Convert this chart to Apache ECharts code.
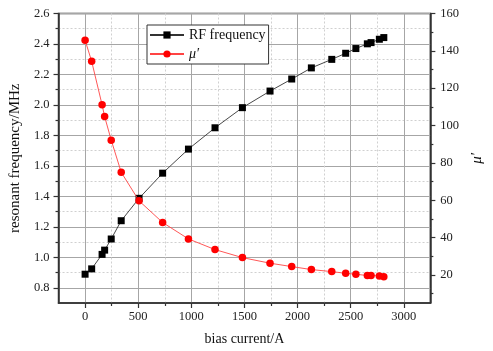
<!DOCTYPE html>
<html><head><meta charset="utf-8">
<script src="https://cdn.jsdelivr.net/npm/echarts@6/dist/echarts.min.js"></script>
<style>html,body{margin:0;padding:0;background:#fff}#c{width:493px;height:351px}</style>
</head><body><div id="c"></div>
<script>
const current = [0, 62, 160, 184, 246, 340, 508, 730, 973, 1223, 1481, 1741, 1945, 2130, 2322, 2453, 2549, 2657, 2692, 2770, 2812];
const rfFrequency = [0.889, 0.924, 1.019, 1.047, 1.120, 1.240, 1.387, 1.552, 1.710, 1.850, 1.982, 2.091, 2.170, 2.243, 2.299, 2.339, 2.370, 2.401, 2.409, 2.431, 2.442];
const muPrime = [145.7, 134.4, 111.1, 104.8, 92.2, 75.0, 59.7, 48.1, 39.3, 33.6, 29.3, 26.3, 24.5, 22.9, 21.8, 20.9, 20.4, 19.7, 19.7, 19.5, 19.1];
const xTicks = [0, 500, 1000, 1500, 2000, 2500, 3000];
const xMinorTicks = [250, 750, 1250, 1750, 2250, 2750];
const leftTicks = [0.8, 1.0, 1.2, 1.4, 1.6, 1.8, 2.0, 2.2, 2.4, 2.6];
const leftMinorTicks = [0.9, 1.1, 1.3, 1.5, 1.7, 1.9, 2.1, 2.3, 2.5];
const rightTicks = [20, 40, 60, 80, 100, 120, 140, 160];
const rightMinorTicks = [10, 30, 50, 70, 90, 110, 130, 150];

const FONT = 'Liberation Serif';
const AX = '#333';
const labelStyle = { fontFamily: FONT, fontSize: 12.5, color: '#222' };

const chart = echarts.init(document.getElementById('c'), null, { renderer: 'canvas' });
chart.setOption({
  animation: false,
  backgroundColor: '#fff',
  grid: { left: 55.5, right: 47.5, top: 13.5, bottom: 47.5, show: true, borderColor: AX, borderWidth: 1.5, backgroundColor: 'transparent' },
  legend: {
    orient: 'vertical', left: 147, top: 25,
    backgroundColor: '#fff', borderColor: '#333', borderWidth: 1,
    padding: [3, 3, 3, 2], itemGap: 5, itemWidth: 34, itemHeight: 9,
    textStyle: { fontFamily: FONT, fontSize: 14, color: '#111', lineHeight: 14 },
    data: [{ name: 'RF frequency' }, { name: 'μ′', textStyle: { fontStyle: 'italic' } }]
  },
  xAxis: [
    {
      type: 'value', position: 'bottom', min: -250, max: 3250,
      name: 'bias current/A', nameLocation: 'middle', nameGap: 29,
      nameTextStyle: { fontFamily: FONT, fontSize: 14, color: '#111' },
      axisLine: { onZero: false, lineStyle: { color: AX, width: 1.5 } },
      axisTick: { customValues: xTicks, length: 5, lineStyle: { color: AX, width: 1.2 } },
      axisLabel: { customValues: xTicks, margin: 7, ...labelStyle, formatter: v => String(v) },
      splitLine: { show: true, lineStyle: { color: '#a6a6a6', width: 1 } }
    },
    {
      type: 'value', position: 'bottom', min: -250, max: 3250,
      axisLine: { show: false, onZero: false },
      axisTick: { customValues: xMinorTicks, length: 3, lineStyle: { color: AX, width: 1.2 } },
      axisLabel: { show: false },
      splitLine: { show: true, lineStyle: { color: '#d0d0d0', width: 1, type: [2, 2] } }
    }
  ],
  yAxis: [
    {
      type: 'value', position: 'left', min: 0.7, max: 2.6,
      name: 'resonant frequency/MHz', nameLocation: 'middle', nameGap: 29,
      nameTextStyle: { fontFamily: FONT, fontSize: 15, color: '#111' },
      axisLine: { show: true, onZero: false, lineStyle: { color: AX, width: 1.5 } },
      axisTick: { customValues: leftTicks, length: 5, lineStyle: { color: AX, width: 1.2 } },
      axisLabel: { customValues: leftTicks, margin: 9, ...labelStyle, formatter: v => v.toFixed(1) },
      splitLine: { show: true, lineStyle: { color: '#a6a6a6', width: 1 } }
    },
    {
      type: 'value', position: 'left', min: 0.7, max: 2.6,
      axisLine: { show: false, onZero: false },
      axisTick: { show: true, customValues: leftMinorTicks, length: 3, lineStyle: { color: AX, width: 1.2 } },
      axisLabel: { show: false },
      splitLine: { show: true, lineStyle: { color: '#d0d0d0', width: 1, type: [2, 2] } }
    },
    {
      type: 'value', position: 'right', min: 5, max: 160,
      name: 'μ′', nameLocation: 'middle', nameGap: 37,
      nameTextStyle: { fontFamily: FONT, fontSize: 15, color: '#111', fontStyle: 'italic' },
      axisLine: { show: true, onZero: false, lineStyle: { color: AX, width: 1.5 } },
      axisTick: { show: true, customValues: rightTicks, length: 5, lineStyle: { color: AX, width: 1.2 } },
      axisLabel: { customValues: rightTicks, margin: 10, ...labelStyle },
      splitLine: { show: false }
    },
    {
      type: 'value', position: 'right', min: 5, max: 160,
      axisLine: { show: false, onZero: false },
      axisTick: { show: true, customValues: rightMinorTicks, length: 3, lineStyle: { color: AX, width: 1.2 } },
      axisLabel: { show: false },
      splitLine: { show: false }
    }
  ],
  series: [
    {
      name: 'RF frequency', type: 'line', xAxisIndex: 0, yAxisIndex: 0,
      data: current.map((x, i) => [x, rfFrequency[i]]),
      symbol: 'rect', symbolSize: 7, z: 3,
      itemStyle: { color: '#000' },
      lineStyle: { color: '#333', width: 0.9 }
    },
    {
      name: 'μ′', type: 'line', xAxisIndex: 0, yAxisIndex: 2,
      data: current.map((x, i) => [x, muPrime[i]]),
      symbol: 'circle', symbolSize: 7.5, z: 4,
      itemStyle: { color: '#ff0000' },
      lineStyle: { color: '#ff4444', width: 0.9 }
    }
  ]
});
</script></body></html>
